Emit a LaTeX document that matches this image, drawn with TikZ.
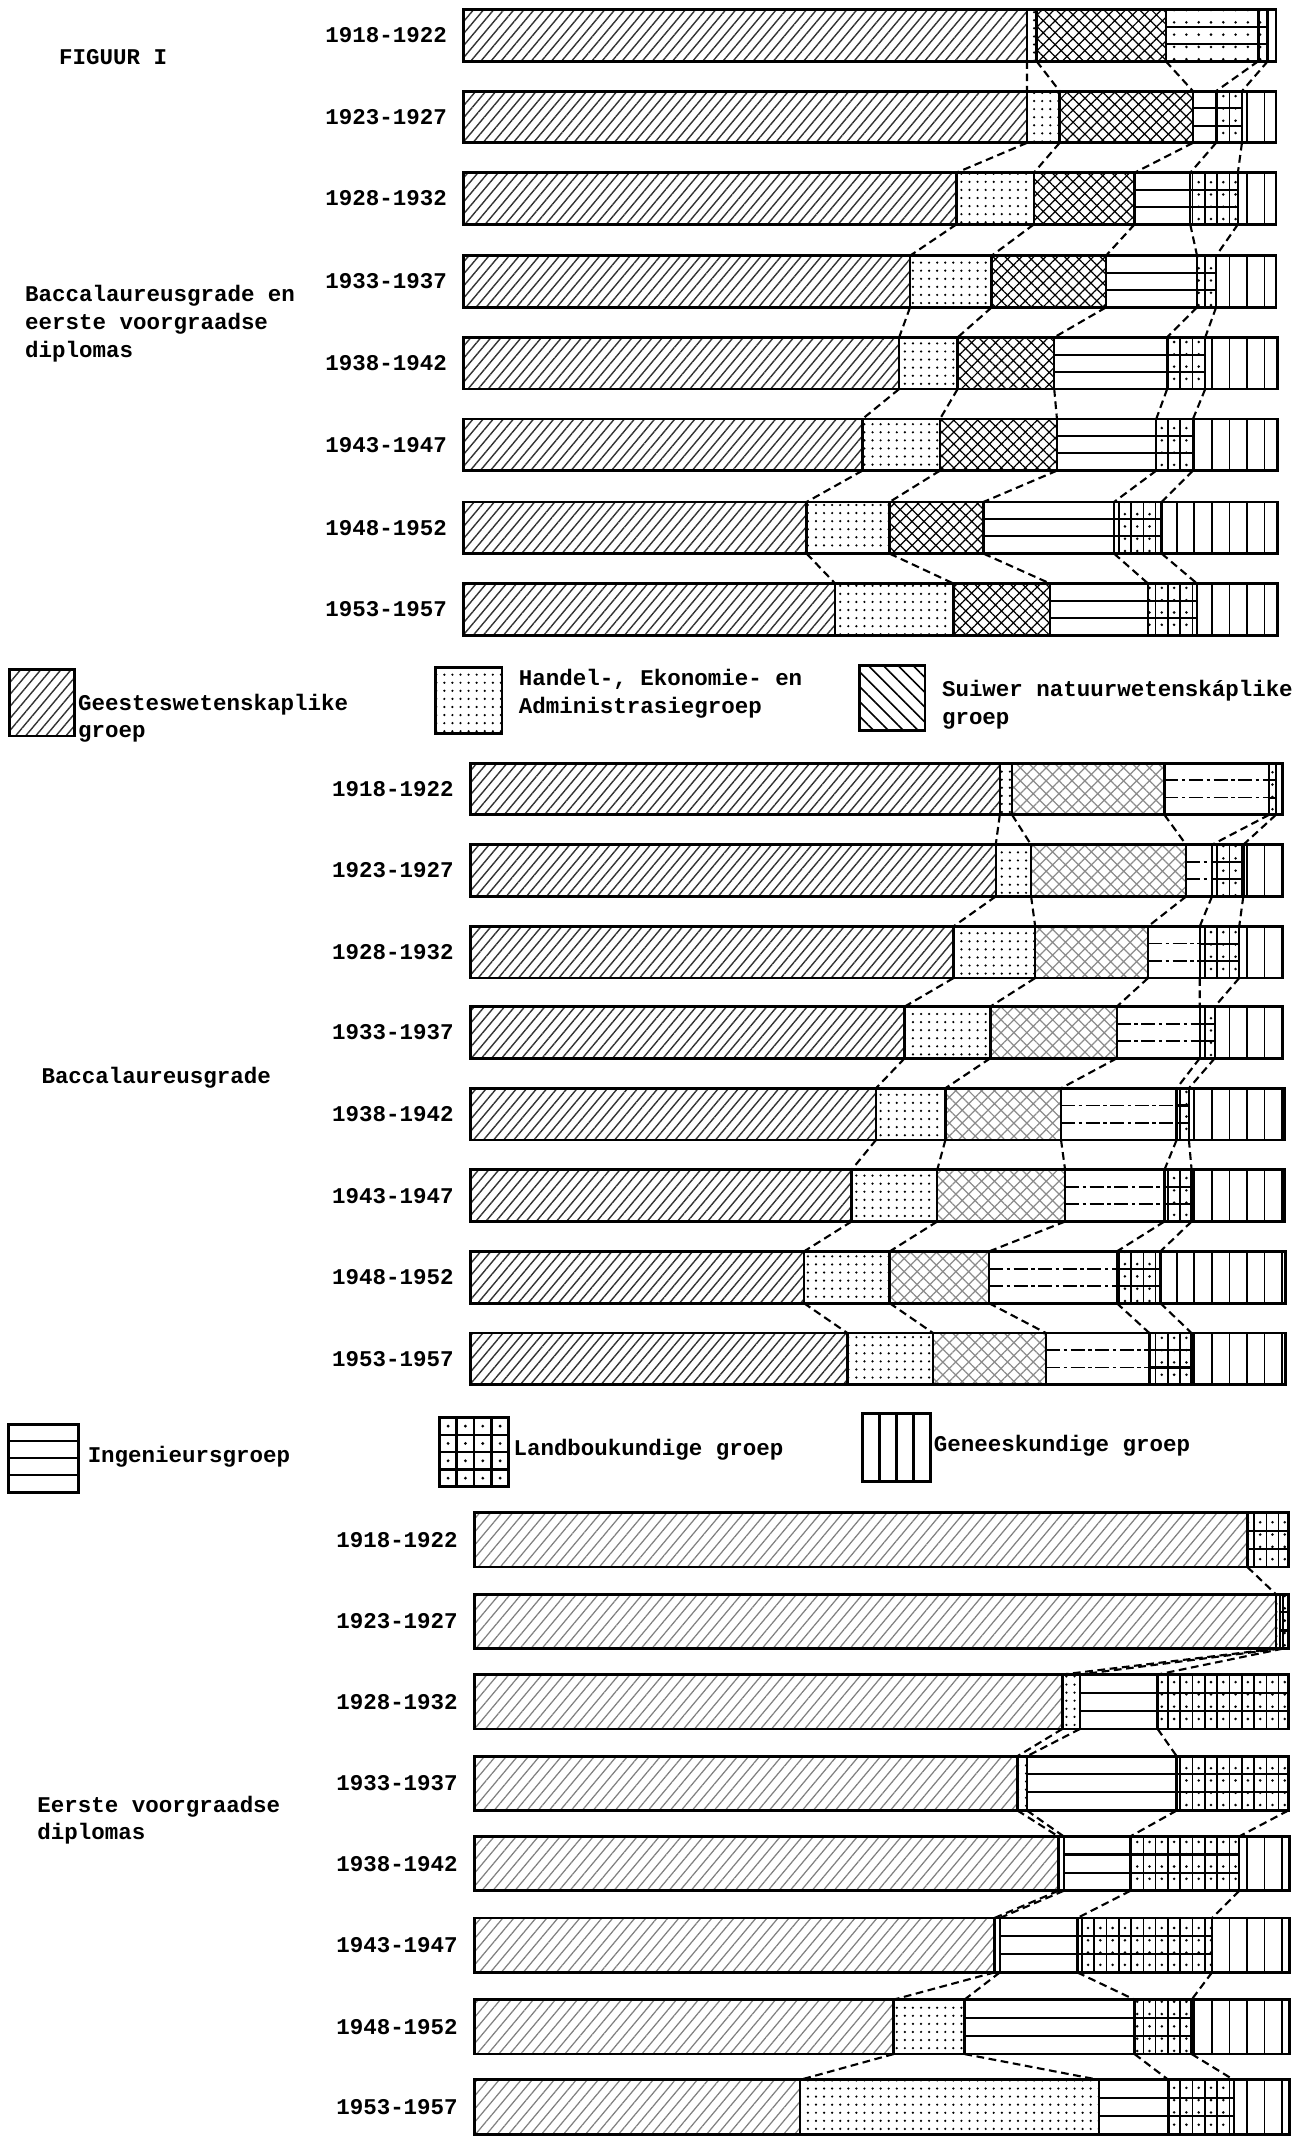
\documentclass[tikz,border=0pt]{standalone}
\usepackage{fontspec}
\setmonofont{Liberation Mono}
\usetikzlibrary{patterns.meta}

\begin{document}
\begin{tikzpicture}[x=0.013604cm,y=-0.013604cm,
  every node/.style={font=\ttfamily\bfseries\fontsize{6.4}{7.9}\selectfont,inner sep=0pt},
  balk/.style={line width=0.8pt},
  skei/.style={line width=0.7pt},
  lyn/.style={dash pattern=on 2.2pt off 1.3pt,line width=0.6pt},
  geestes1/.style={pattern={Lines[angle=50,distance=2.2pt,line width=0.4pt]},pattern color=black!80},
  geestes2/.style={geestes1},
  geestes3/.style={pattern={Lines[angle=50,distance=2.4pt,line width=0.35pt]},pattern color=black!50},
  handel/.style={pattern={Dots[distance=2.3pt,radius=0.35pt]}},
  suiwer1/.style={pattern={Hatch[angle=45,distance=2.4pt,line width=0.35pt]}},
  suiwer2/.style={pattern={Hatch[angle=45,distance=2.6pt,line width=0.35pt]},pattern color=black!45},
  suiwer3/.style={suiwer2},
  ing1/.style={line width=0.6pt},
  ing2/.style={line width=0.5pt,dash pattern=on 4pt off 1pt on 1pt off 1pt},
  ing3/.style={ing1},
  landbou/.style={pattern={Lines[angle=90,distance=3.5pt,line width=0.45pt]}},
  landstip/.style={pattern={Dots[distance=3.5pt,radius=0.4pt,xshift=1.75pt]}},
  genees/.style={pattern={Lines[angle=90,distance=5pt,line width=0.5pt]}}]

\fill[white] (0,0) rectangle (960,1571);
\useasboundingbox (0,0) rectangle (960,1571);

% staafies: groep/nr/bo/hoogte/links/grense/regs
\foreach \gr/\nr/\yy/\hh/\xl/\xa/\xb/\xc/\xd/\xe/\xr in {%
  1/1/7/38/341/755/762/857/925/932/938,%
  1/2/67/38/341/755/779/877/894/913/938,%
  1/3/127/38/341/703/760/834/875/910/938,%
  1/4/188/38/341/669/729/813/880/894/938,%
  1/5/248/38/341/661/704/775/858/886/939,%
  1/6/308/38/341/634/691/777/850/877/939,%
  1/7/369/38/341/593/654/723/819/854/939,%
  1/8/429/38/341/614/701/772/844/880/939,%
  2/1/561/38/346/735/744/856/933/938/943,%
  2/2/621/38/346/732/758/872/891/914/943,%
  2/3/681/38/346/701/761/844/882/911/943,%
  2/4/740/38/346/665/728/821/882/893/943,%
  2/5/800/38/346/644/695/780/865/874/944,%
  2/6/860/38/346/626/689/783/856/876/944,%
  2/7/920/38/346/591/654/727/821/853/945,%
  2/8/980/38/346/623/686/769/845/876/945,%
  3/1/1112/40/349/917/917/917/917/947/947,%
  3/2/1172/40/349/938/941/941/943/947/947,%
  3/3/1231/40/349/781/794/794/851/947/947,%
  3/4/1291/40/349/748/755/755/865/947/947,%
  3/5/1350/40/349/778/782/782/831/911/948,%
  3/6/1410/40/349/731/735/735/792/891/948,%
  3/7/1470/40/349/657/709/709/834/876/948,%
  3/8/1529/40/349/588/808/808/859/907/948}{
  \pgfmathtruncatemacro\van{1913+5*\nr}
  \pgfmathtruncatemacro\tot{1917+5*\nr}
  \fill[geestes\gr] (\xl,\yy) rectangle (\xa,\yy+\hh);
  \fill[handel] (\xa,\yy) rectangle (\xb,\yy+\hh);
  \fill[suiwer\gr] (\xb,\yy) rectangle (\xc,\yy+\hh);
  \draw[ing\gr] (\xc,\yy+\hh/3) -- (\xd,\yy+\hh/3) (\xc,\yy+2*\hh/3) -- (\xd,\yy+2*\hh/3);
  \fill[landbou] (\xd,\yy) rectangle (\xe,\yy+\hh);
  \fill[landstip] (\xd,\yy) rectangle (\xe,\yy+\hh);
  \draw[ing1] (\xd,\yy+\hh/3) -- (\xe,\yy+\hh/3) (\xd,\yy+2*\hh/3) -- (\xe,\yy+2*\hh/3);
  \fill[genees] (\xe,\yy) rectangle (\xr,\yy+\hh);
  \foreach \x in {\xa,\xb,\xc,\xd,\xe} \draw[skei] (\x,\yy) -- (\x,\yy+\hh);
  \draw[balk] (\xl,\yy) rectangle (\xr,\yy+\hh);
  \coordinate (bo\gr\nr a) at (\xa,\yy); \coordinate (on\gr\nr a) at (\xa,\yy+\hh);
  \coordinate (bo\gr\nr b) at (\xb,\yy); \coordinate (on\gr\nr b) at (\xb,\yy+\hh);
  \coordinate (bo\gr\nr c) at (\xc,\yy); \coordinate (on\gr\nr c) at (\xc,\yy+\hh);
  \coordinate (bo\gr\nr d) at (\xd,\yy); \coordinate (on\gr\nr d) at (\xd,\yy+\hh);
  \coordinate (bo\gr\nr e) at (\xe,\yy); \coordinate (on\gr\nr e) at (\xe,\yy+\hh);
  \node[anchor=east] (jaar\gr\nr) at (\xl-12,\yy+\hh/2) {\van-\tot};
}
\fill[landstip] (bo11c) rectangle (on11d);

% stippellyne tussen die staafies
\foreach \gr/\nr/\vn in {1/1/2,1/2/3,1/3/4,1/4/5,1/5/6,1/6/7,1/7/8,%
  2/1/2,2/2/3,2/3/4,2/4/5,2/5/6,2/6/7,2/7/8}
  \draw[lyn] (on\gr\nr a) -- (bo\gr\vn a) (on\gr\nr b) -- (bo\gr\vn b) (on\gr\nr c) -- (bo\gr\vn c)
    (on\gr\nr d) -- (bo\gr\vn d) (on\gr\nr e) -- (bo\gr\vn e);
\foreach \nr/\vn/\j in {1/2/a,2/3/a,2/3/b,2/3/d,3/4/a,3/4/b,3/4/d,4/5/a,4/5/b,4/5/d,4/5/e,%
  5/6/a,5/6/b,5/6/d,5/6/e,6/7/a,6/7/b,6/7/d,6/7/e,7/8/a,7/8/b,7/8/d,7/8/e}
  \draw[lyn] (on3\nr\j) -- (bo3\vn\j);

% opskrifte
\node[anchor=west] (figuur) at (43,42) {FIGUUR I};
\node[anchor=west,align=left] (groepbo) at (18,238) {Baccalaureusgrade en\\eerste voorgraadse\\diplomas};
\node[anchor=west] (groepmid) at (30,792) {Baccalaureusgrade};
\node[anchor=west,align=left] (groeponder) at (27,1338) {Eerste voorgraadse\\diplomas};

% sleutel
\fill[geestes1] (7,492) rectangle (55,541);
\draw[balk] (7,492) rectangle (55,541);
\node[anchor=west,align=left] (sGeestes) at (57,528) {Geesteswetenskaplike\\groep};
\fill[handel] (320,491) rectangle (369,539);
\draw[balk] (320,491) rectangle (369,539);
\node[anchor=west,align=left] (sHandel) at (381,510) {Handel-, Ekonomie- en\\Administrasiegroep};
\fill[pattern={Lines[angle=-45,distance=3pt,line width=0.45pt]}] (632,489) rectangle (680,537);
\draw[balk] (632,489) rectangle (680,537);
\node[anchor=west,align=left] (sSuiwer) at (692,518) {Suiwer natuurwetenskáplike\\groep};

\draw[balk] (6,1047) rectangle (58,1097);
\foreach \y in {1059.5,1072,1084.5} \draw[ing1] (6,\y) -- (58,\y);
\node[anchor=west] (sIng) at (64,1071) {Ingenieursgroep};
\draw[balk] (323,1042) rectangle (374,1093);
\foreach \i in {1,2,3} \draw[skei] (323+12.75*\i,1042) -- (323+12.75*\i,1093) (323,1042+12.75*\i) -- (374,1042+12.75*\i);
\foreach \i in {0,...,3} \foreach \j in {0,...,3} \fill (329.4+12.75*\i,1048.4+12.75*\j) circle (0.45pt);
\node[anchor=west] (sLand) at (377,1066) {Landboukundige groep};
\draw[balk] (634,1039) rectangle (684,1089);
\foreach \i in {1,2,3} \draw[skei] (634+12.5*\i,1039) -- (634+12.5*\i,1089);
\node[anchor=west] (sGenees) at (686,1063) {Geneeskundige groep};
\end{tikzpicture}
\end{document}
